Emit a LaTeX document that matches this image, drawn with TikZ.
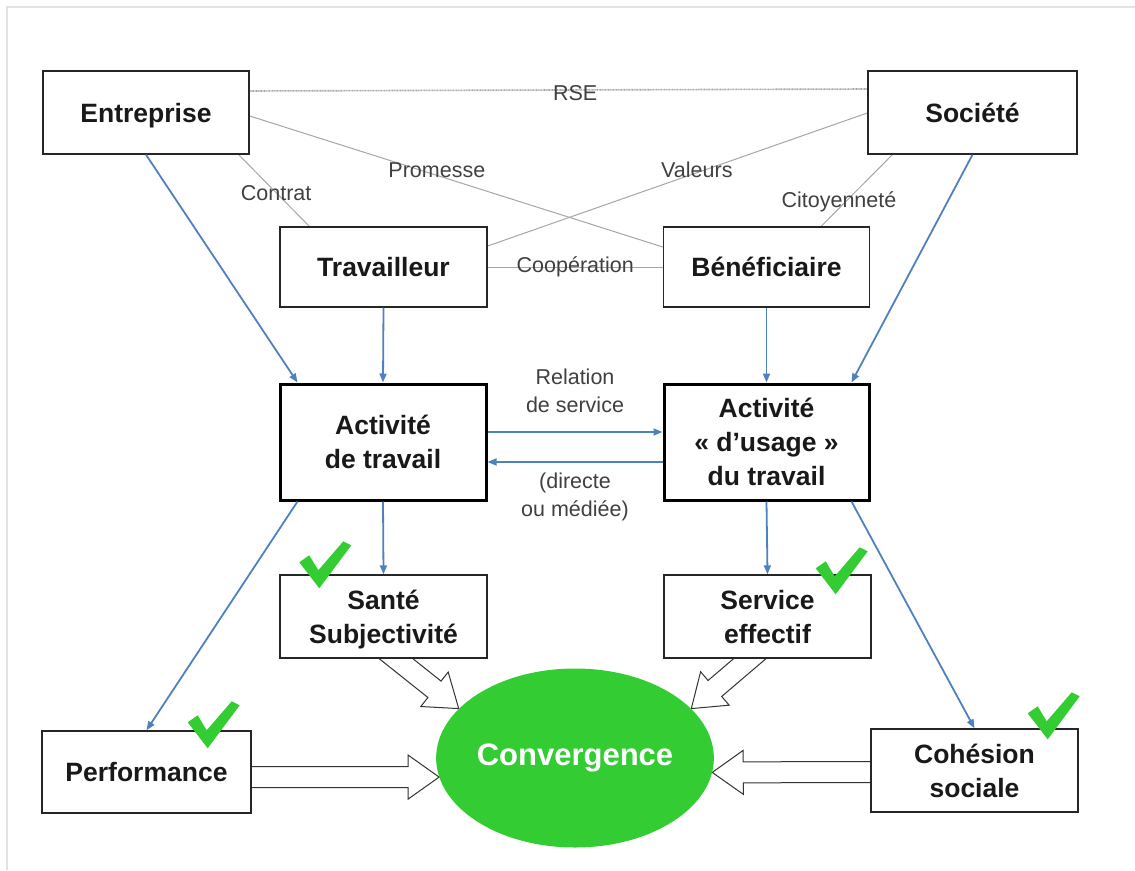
\documentclass[tikz,border=0pt]{standalone}
\usepackage{fontspec}
\setmainfont{Liberation Sans}
\usetikzlibrary{calc,arrows.meta,shapes.geometric}
\definecolor{arrowblue}{HTML}{4F81BD}
\definecolor{cgreen}{HTML}{33CC33}
\definecolor{lgrey}{HTML}{A6A6A6}
\definecolor{labgrey}{HTML}{404040}
\definecolor{framegrey}{HTML}{E3E3E3}
\pgfdeclarelayer{bg}
\pgfsetlayers{bg,main}
\newcommand\blockarrow[2]{%
  \draw[blk] let \p1=(#1), \p2=(#2), \n1={atan2(\y2-\y1,\x2-\x1)}, \n2={veclen(\x2-\x1,\y2-\y1)} in
   [shift={(\p1)}, rotate=\n1]
   (0pt,-10.5pt) -- ({\n2*1pt-31pt},-10.5pt) -- ({\n2*1pt-31pt},-22pt) -- ({\n2*1pt},0pt)
   -- ({\n2*1pt-31pt},22pt) -- ({\n2*1pt-31pt},10.5pt) -- (0pt,10.5pt);
}
\begin{document}
\begin{tikzpicture}[x=1pt,y=-1pt,
  box/.style={draw=black!85, line width=1.4pt, fill=white, inner sep=0pt, align=center,
    font=\bfseries\fontsize{26.5}{34}\selectfont, text=black!90, text depth=0pt},
  thickbox/.style={box, line width=3pt, draw=black},
  bluearrow/.style={draw=arrowblue, line width=1.8pt, -{Triangle[length=9pt,width=7pt]}},
  rel/.style={draw=lgrey, line width=1pt},
  lab/.style={font=\fontsize{21.5}{28}\selectfont, text=labgrey, align=center, inner sep=1pt},
  blk/.style={draw=black!80, line width=1pt, fill=white, line join=miter},
  conv/.style={ellipse, fill=cgreen, draw=none, minimum width=276pt, minimum height=179pt,
    font=\bfseries\fontsize{31}{35}\selectfont, text=white, inner sep=0pt},
  check/.pic={\fill[cgreen] (0,21) -- (10,14) -- (19,29) -- (44,0) -- (52,4) -- (20,47) -- cycle;}
]
\useasboundingbox (0,0) rectangle (1135,870);
\draw[framegrey, line width=2pt] (7,870) -- (7,7) -- (1135,7);

% nodes
\node[box, minimum width=206pt, minimum height=83pt] (ent) at (146,112.5) {Entreprise};
\node[box, minimum width=209pt, minimum height=83pt] (soc) at (972.5,112.5) {Société};
\node[box, minimum width=207pt, minimum height=80pt] (trav) at (383.5,267) {Travailleur};
\node[box, minimum width=206pt, minimum height=80pt] (ben) at (766.5,267) {Bénéficiaire};
\node[thickbox, minimum width=206pt, minimum height=116pt] (at) at (383,442) {Activité\\de travail};
\node[thickbox, minimum width=205pt, minimum height=116pt] (au) at (766.5,442) {Activité\\« d’usage »\\du travail};
\node[box, minimum width=207pt, minimum height=83pt] (sante) at (383.5,616.5) {Santé\\Subjectivité};
\node[box, minimum width=207pt, minimum height=83pt] (serv) at (767.5,616.5) {Service\\effectif};
\node[box, minimum width=209pt, minimum height=82pt] (perf) at (146.5,772) {Performance};
\node[box, minimum width=207pt, minimum height=83pt] (coh) at (974.5,770.5) {Cohésion\\sociale};
\node[conv] (conv) at (575,758) {Convergence};

\begin{pgfonlayer}{bg}
% relations
\draw[rel, line width=1.6pt, dash pattern=on 1pt off 0.6pt] ($(ent.east)+(0,-21.5)$) -- node[lab, pos=0.527, yshift=-3pt] (rse) {RSE} ($(soc.west)+(0,-23.5)$);
\draw[rel] ($(ent.east)+(0,3.5)$) -- node[lab, pos=0.453, yshift=5pt] (prom) {Promesse} ($(ben.west)+(0,-20)$);
\draw[rel] ($(soc.west)+(0,0.5)$) -- node[lab, pos=0.449, yshift=3pt] (val) {Valeurs} ($(trav.east)+(0,-21)$);
\draw[rel] ($(ent.south east)+(-11,0)$) -- node[lab, pos=0.53] (contr) {Contrat} ($(trav.north west)+(30,0)$);
\draw[rel] ($(soc.south west)+(25,0)$) -- node[lab, pos=0.75, yshift=7pt] (cit) {Citoyenneté} ($(ben.north east)+(-49,0)$);
\draw[rel] (trav.east) -- node[lab] (coop) {Coopération} (ben.west);

% block arrows
\blockarrow{$(perf.east)+(0,5)$}{conv.188}
\blockarrow{$(coh.west)+(0,1.5)$}{conv.354}
\blockarrow{$(sante.south)+(-2.5,-12)$}{conv.157}
\blockarrow{$(serv.south)+(-2.5,-13)$}{conv.23}
\end{pgfonlayer}

% blue arrows
\draw[bluearrow] (ent.south) -- ($(at.north west)+(19,0)$);
\draw[bluearrow] (trav.south) -- (at.north);
\draw[bluearrow] (ben.south) -- (au.north);
\draw[bluearrow] (soc.south) -- ($(au.north east)+(-19,0)$);
\draw[bluearrow] ($(at.south west)+(19,0)$) -- (perf.north);
\draw[bluearrow] (at.south) -- (sante.north);
\draw[bluearrow] (au.south) -- (serv.north);
\draw[bluearrow] ($(au.south east)+(-19,0)$) -- (coh.north);
\draw[bluearrow] ($(at.east)+(0,-10)$) -- ($(au.west)+(0,-10)$);
\draw[bluearrow] ($(au.west)+(0,20)$) -- ($(at.east)+(0,20)$);

\node[lab] (relserv) at (575,391) {Relation\\de service};
\node[lab] (directe) at (575,497) {(directe\\ou médiée)};

% check marks
\pic at ($(sante.north west)+(20,-33)$) {check};
\pic at ($(serv.north east)+(-56,-27)$) {check};
\pic at ($(perf.north east)+(-64,-29)$) {check};
\pic at ($(coh.north east)+(-51,-36)$) {check};
\end{tikzpicture}
\end{document}
